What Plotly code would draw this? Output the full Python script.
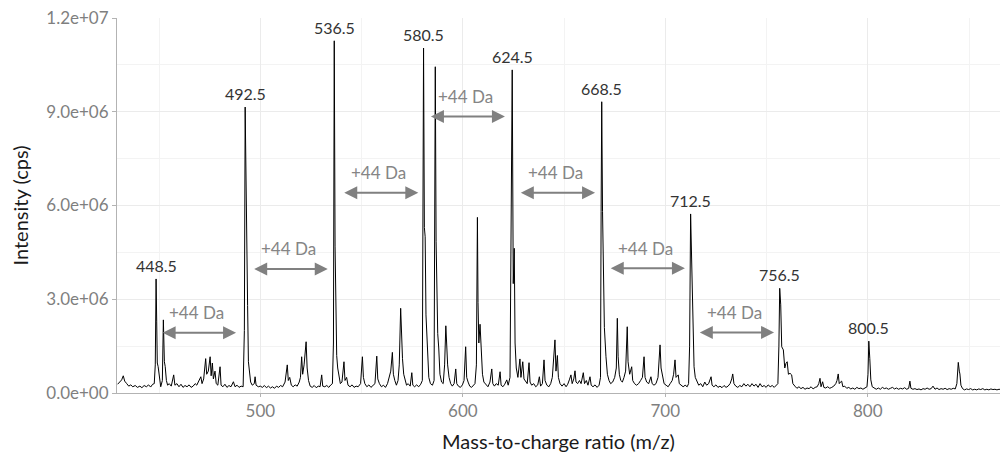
import plotly.graph_objects as go

# ================================
# Spectrum (m/z, intensity in millions of cps)
# ================================
spec_430_500 = [
    [429.5, 0.28], [430.5, 0.35], [431.5, 0.42], [432.3, 0.55], [433.0, 0.38], [434.0, 0.30],
    [435.0, 0.22], [436.0, 0.26], [437.0, 0.20], [438.2, 0.24], [439.3, 0.18], [440.5, 0.22],
    [441.5, 0.17], [442.6, 0.24], [443.7, 0.20], [444.8, 0.26], [445.8, 0.19], [446.8, 0.28],
    [447.6, 0.30], [448.1, 0.90], [448.5, 3.65], [448.8, 2.30], [449.1, 0.96], [449.5, 0.85],
    [450.0, 0.60], [450.8, 0.20], [451.6, 0.40], [452.1, 2.34], [452.6, 1.00], [453.0, 0.85],
    [453.6, 0.40], [454.2, 0.25], [455.0, 0.30], [456.0, 0.22], [457.2, 0.58], [457.8, 0.25],
    [458.8, 0.30], [459.8, 0.20], [460.8, 0.28], [461.8, 0.18], [462.8, 0.24], [463.8, 0.20],
    [464.8, 0.26], [465.8, 0.18], [466.8, 0.22], [467.8, 0.30], [468.6, 0.25], [469.5, 0.35],
    [470.6, 0.52], [471.2, 0.30], [472.0, 0.45], [473.0, 1.10], [473.5, 0.60], [474.3, 0.70],
    [475.2, 1.16], [475.7, 0.55], [476.3, 0.96], [476.8, 0.45], [477.6, 0.70], [478.2, 0.30],
    [479.0, 0.25], [480.1, 0.84], [480.6, 0.25], [481.5, 0.20], [482.5, 0.28], [483.5, 0.18],
    [484.5, 0.24], [485.5, 0.20], [486.7, 0.36], [487.5, 0.20], [488.5, 0.25], [489.5, 0.18],
    [490.5, 0.22], [491.5, 0.20], [492.1, 2.00], [492.5, 9.15], [492.9, 6.30], [493.3, 4.30],
    [493.7, 2.80], [494.1, 1.00], [494.6, 0.60], [495.2, 0.35], [496.0, 0.25], [497.0, 0.30],
    [497.4, 0.52], [497.9, 0.25], [499.0, 0.20],
]
spec_500_600 = [
    [500.0, 0.22], [501.0, 0.18], [502.0, 0.24], [503.0, 0.17], [504.0, 0.22], [505.0, 0.16],
    [506.0, 0.20], [507.0, 0.15], [508.0, 0.22], [509.0, 0.18], [510.0, 0.24], [511.0, 0.20],
    [512.2, 0.35], [513.3, 0.90], [513.8, 0.40], [514.5, 0.50], [515.3, 0.25], [516.2, 0.20],
    [517.2, 0.26], [518.2, 0.22], [519.2, 0.35], [519.8, 0.50], [520.4, 1.16], [520.9, 0.60],
    [521.6, 0.90], [522.6, 1.64], [523.1, 0.80], [523.8, 0.40], [524.6, 0.22], [525.6, 0.18],
    [526.6, 0.24], [527.6, 0.17], [528.6, 0.22], [529.5, 0.20], [530.3, 0.58], [530.8, 0.22],
    [531.8, 0.20], [532.8, 0.24], [533.8, 0.18], [534.8, 0.26], [535.6, 0.30], [536.1, 1.60],
    [536.5, 11.27], [536.9, 4.70], [537.3, 2.50], [537.7, 1.20], [538.2, 0.80], [538.8, 0.50],
    [539.5, 0.30], [540.3, 0.35], [541.3, 1.00], [541.8, 0.40], [542.6, 0.50], [543.3, 0.25],
    [544.3, 0.20], [545.3, 0.26], [546.3, 0.18], [547.3, 0.22], [548.3, 0.20], [549.5, 0.30],
    [550.4, 1.16], [550.9, 0.50], [551.6, 0.30], [552.6, 0.20], [553.6, 0.26], [554.6, 0.18],
    [555.6, 0.24], [556.6, 0.30], [557.5, 1.18], [558.0, 0.45], [558.8, 0.30], [559.8, 0.20],
    [560.8, 0.25], [561.8, 0.18], [562.8, 0.30], [563.6, 0.50], [564.4, 0.70], [565.2, 1.30],
    [565.7, 0.60], [566.4, 0.40], [567.2, 0.25], [568.0, 0.40], [568.6, 0.90], [569.3, 2.71],
    [569.7, 1.80], [570.2, 1.10], [570.8, 0.60], [571.5, 0.40], [572.2, 0.25], [573.0, 0.30],
    [574.0, 0.22], [574.8, 0.65], [575.3, 0.25], [576.2, 0.20], [577.2, 0.26], [578.2, 0.20],
    [579.2, 0.28], [580.0, 0.40], [580.3, 7.90], [580.6, 11.04], [581.0, 5.30], [581.4, 5.00],
    [581.8, 2.50], [582.5, 1.35], [583.2, 0.50], [584.0, 0.30], [585.0, 0.25], [585.8, 0.40],
    [586.1, 5.80], [586.4, 10.44], [586.8, 4.84], [587.2, 3.10], [587.6, 1.90], [588.1, 1.44],
    [588.7, 0.60], [589.5, 0.35], [590.3, 0.30], [591.0, 0.90], [591.6, 2.15], [592.0, 1.60],
    [592.5, 0.90], [593.2, 0.50], [594.0, 0.30], [594.8, 0.22], [595.7, 0.30], [596.5, 0.77],
    [597.0, 0.30], [597.8, 0.22], [598.8, 0.18], [599.8, 0.26],
]
spec_600_700 = [
    [600.6, 0.40], [601.4, 1.48], [601.9, 0.50], [602.6, 0.35], [603.4, 0.22], [604.3, 0.18],
    [605.2, 0.24], [606.0, 0.30], [606.7, 0.90], [607.2, 5.62], [607.5, 2.90], [607.9, 1.60],
    [608.5, 2.20], [609.1, 1.38], [609.7, 0.60], [610.4, 0.35], [611.5, 0.25], [612.4, 0.20],
    [613.4, 0.35], [614.3, 0.77], [614.8, 0.30], [615.6, 0.22], [616.5, 0.30], [617.5, 0.25],
    [618.4, 0.68], [618.9, 0.25], [619.8, 0.20], [620.7, 0.28], [621.7, 0.42], [622.4, 0.25],
    [623.3, 0.50], [623.8, 4.26], [624.4, 10.34], [624.9, 3.50], [625.4, 4.63], [625.8, 1.60],
    [626.4, 0.80], [627.2, 0.50], [628.2, 1.09], [628.7, 0.50], [629.6, 1.00], [630.2, 0.45],
    [631.0, 0.35], [631.8, 0.30], [632.7, 0.97], [633.2, 0.35], [634.0, 0.25], [635.0, 0.30],
    [636.0, 0.20], [637.0, 0.26], [637.8, 0.52], [638.4, 0.22], [639.3, 0.30], [640.1, 1.06],
    [640.6, 0.40], [641.5, 0.25], [642.5, 0.20], [643.4, 0.30], [644.2, 0.50], [645.5, 1.70],
    [646.0, 0.70], [646.7, 1.20], [647.2, 0.50], [648.0, 0.30], [649.0, 0.22], [650.0, 0.30],
    [651.0, 0.20], [651.8, 0.28], [652.6, 0.42], [653.4, 0.58], [654.0, 0.30], [654.8, 0.45],
    [655.4, 0.71], [655.9, 0.35], [656.7, 0.30], [657.6, 0.40], [658.4, 0.30], [659.5, 0.65],
    [660.1, 0.30], [661.0, 0.40], [661.8, 0.25], [662.8, 0.52], [663.4, 0.25], [664.3, 0.20],
    [665.3, 0.26], [666.3, 0.18], [667.3, 0.25], [668.0, 0.50], [668.3, 5.80], [668.6, 9.32],
    [669.0, 5.80], [669.4, 3.94], [669.9, 2.10], [670.7, 1.16], [671.4, 0.60], [672.2, 0.40],
    [673.0, 0.30], [674.0, 0.35], [675.0, 0.50], [675.8, 0.80], [676.3, 2.39], [676.7, 1.16],
    [677.3, 0.60], [678.0, 0.40], [678.8, 0.35], [679.6, 0.50], [680.4, 0.70], [681.2, 2.12],
    [681.6, 1.00], [682.4, 0.60], [683.4, 0.84], [683.9, 0.40], [684.8, 0.30], [685.8, 0.25],
    [686.8, 0.30], [687.8, 0.40], [688.7, 0.50], [689.5, 1.16], [690.0, 0.50], [690.8, 0.35],
    [691.8, 0.30], [692.9, 0.52], [693.5, 0.30], [694.4, 0.25], [695.4, 0.30], [696.4, 0.50],
    [697.4, 1.54], [697.9, 0.80], [698.6, 0.50], [699.4, 0.30],
]
spec_700_866 = [
    [700.4, 0.25], [701.4, 0.20], [702.4, 0.30], [703.4, 0.40], [704.1, 0.60], [704.8, 1.06],
    [705.3, 0.50], [706.4, 0.58], [706.9, 0.30], [707.8, 0.25], [708.8, 0.20], [709.8, 0.25],
    [710.8, 0.20], [711.5, 0.30], [712.0, 1.50], [712.5, 5.73], [712.9, 4.60], [713.3, 2.60],
    [713.8, 1.40], [714.2, 0.84], [714.8, 0.50], [715.6, 0.35], [716.5, 0.25], [717.5, 0.30],
    [718.5, 0.20], [719.5, 0.35], [720.4, 0.25], [721.4, 0.30], [722.6, 0.52], [723.1, 0.25],
    [724.0, 0.20], [725.0, 0.26], [726.0, 0.18], [727.0, 0.22], [728.0, 0.17], [729.0, 0.24],
    [730.0, 0.18], [731.0, 0.22], [732.0, 0.30], [732.8, 0.45], [733.3, 0.61], [733.9, 0.30],
    [734.8, 0.22], [735.8, 0.18], [736.8, 0.24], [737.8, 0.20], [738.8, 0.30], [739.8, 0.22],
    [740.8, 0.28], [741.8, 0.20], [742.8, 0.30], [743.8, 0.22], [744.8, 0.28], [745.8, 0.18],
    [746.8, 0.30], [747.8, 0.20], [748.8, 0.24], [749.8, 0.18], [750.8, 0.26], [751.8, 0.20],
    [752.8, 0.24], [753.8, 0.18], [754.8, 0.26], [755.6, 0.30], [756.1, 1.50], [756.5, 3.35],
    [757.0, 2.82], [757.5, 1.48], [758.3, 1.38], [759.0, 0.80], [759.6, 0.95], [760.2, 1.00],
    [760.8, 0.60], [761.6, 0.63], [762.4, 0.58], [763.0, 0.30], [764.0, 0.22], [765.0, 0.15],
    [766.0, 0.20], [767.0, 0.14], [768.0, 0.18], [769.0, 0.12], [770.0, 0.16], [771.0, 0.14],
    [772.0, 0.20], [773.0, 0.13], [774.0, 0.18], [775.0, 0.20], [775.8, 0.30], [776.4, 0.47],
    [776.9, 0.20], [777.7, 0.36], [778.3, 0.18], [779.2, 0.16], [780.2, 0.20], [781.2, 0.15],
    [782.2, 0.18], [783.2, 0.22], [784.2, 0.30], [784.8, 0.40], [785.4, 0.61], [785.9, 0.30],
    [786.5, 0.35], [787.1, 0.38], [787.7, 0.20], [788.6, 0.22], [789.6, 0.15], [790.6, 0.18],
    [791.6, 0.13], [792.6, 0.16], [793.6, 0.12], [794.6, 0.18], [795.6, 0.14], [796.6, 0.16],
    [797.6, 0.12], [798.6, 0.15], [799.6, 0.20], [800.1, 0.60], [800.5, 1.66], [801.0, 1.10],
    [801.5, 0.42], [802.2, 0.20], [803.2, 0.15], [804.2, 0.12], [805.2, 0.16], [806.2, 0.12],
    [807.2, 0.18], [808.2, 0.14], [809.2, 0.16], [810.2, 0.12], [811.2, 0.15], [812.2, 0.18],
    [813.2, 0.13], [814.2, 0.16], [815.2, 0.12], [816.2, 0.15], [817.2, 0.13], [818.2, 0.17],
    [819.2, 0.12], [820.2, 0.15], [820.8, 0.38], [821.3, 0.15], [822.3, 0.12], [823.3, 0.14],
    [824.3, 0.11], [825.3, 0.13], [826.3, 0.10], [827.3, 0.14], [828.3, 0.12], [829.3, 0.16],
    [830.3, 0.12], [831.3, 0.14], [832.2, 0.22], [833.2, 0.12], [834.2, 0.16], [835.2, 0.11],
    [836.2, 0.14], [837.2, 0.12], [838.2, 0.15], [839.2, 0.11], [840.2, 0.14], [841.2, 0.12],
    [842.2, 0.15], [843.2, 0.13], [844.0, 0.30], [844.7, 0.98], [845.2, 0.70], [845.5, 0.61],
    [846.0, 0.25], [846.8, 0.14], [847.8, 0.10], [848.8, 0.13], [849.8, 0.11], [850.8, 0.14],
    [851.8, 0.10], [852.8, 0.12], [853.8, 0.10], [854.8, 0.13], [855.8, 0.11], [856.8, 0.14],
    [857.8, 0.10], [858.8, 0.12], [859.8, 0.10], [860.8, 0.13], [861.8, 0.11], [862.8, 0.12],
    [863.8, 0.10], [864.8, 0.12], [865.8, 0.11],
]

# labelled peaks (m/z, intensity in millions)
peak_mz = [448.5, 492.5, 536.5, 580.5, 624.5, 668.5, 712.5, 756.5, 800.5]
peak_int = [3.65, 9.15, 11.27, 11.04, 10.34, 9.32, 5.73, 3.35, 1.66]
peak_text = ["448.5", "492.5", "536.5", "580.5", "624.5", "668.5", "712.5", "756.5", "800.5"]

# +44 Da arrows
arrow_from = [451.0, 496.2, 540.7, 583.5, 627.9, 672.3, 716.3]
arrow_to = [488.0, 533.3, 578.0, 620.8, 665.3, 709.7, 753.7]
arrow_y = [1.93, 3.97, 6.41, 8.85, 6.41, 3.99, 1.94]
arrow_text = "+44 Da"

# ejes
y_tickvals = [0, 3e6, 6e6, 9e6, 1.2e7]
y_ticktext = ["0.0e+00", "3.0e+06", "6.0e+06", "9.0e+06", "1.2e+07"]
x_tickvals = [500, 600, 700, 800]

FONT = "Lato"
GRID = "#EBEBEB"

spectrum = spec_430_500 + spec_500_600 + spec_600_700 + spec_700_866
mz = [p[0] for p in spectrum]
intensity = [p[1] * 1e6 for p in spectrum]

fig = go.Figure()
fig.add_trace(go.Scatter(
    x=mz, y=intensity, mode="lines",
    line=dict(color="black", width=1),
    showlegend=False, hoverinfo="x+y"
))

# ---------- peak labels ----------
for x, y, t in zip(peak_mz, peak_int, peak_text):
    fig.add_annotation(
        x=x, y=y * 1e6, text=t, showarrow=False,
        yanchor="bottom", yshift=2,
        font=dict(family=FONT, size=16, color="#333333")
    )

# ---------- +44 Da arrows ----------
for x0, x1, y in zip(arrow_from, arrow_to, arrow_y):
    fig.add_annotation(
        x=x1, y=y * 1e6, ax=x0, ay=y * 1e6,
        xref="x", yref="y", axref="x", ayref="y",
        text="", showarrow=True, arrowhead=2, arrowside="end+start",
        arrowsize=1.3, arrowwidth=2, arrowcolor="#808080"
    )
    fig.add_annotation(
        x=(x0 + x1) / 2 - 1, y=y * 1e6, text=arrow_text, showarrow=False,
        yshift=20, font=dict(family=FONT, size=17, color="#858585")
    )

fig.update_layout(
    width=1000, height=454,
    margin=dict(l=117, r=0, t=18, b=61),
    plot_bgcolor="white", paper_bgcolor="white",
    font=dict(family=FONT),
    showlegend=False,
)
fig.update_xaxes(
    range=[429.2, 865.3],
    tickvals=x_tickvals, ticks="outside", ticklen=3, tickcolor="#B3B3B3",
    tickfont=dict(family=FONT, size=17, color="#7F7F7F"),
    showgrid=True, gridcolor=GRID, gridwidth=1,
    minor=dict(dtick=50, tick0=450, showgrid=True, gridcolor="#F3F3F3"),
    showline=True, linecolor="#B3B3B3", linewidth=1,
    zeroline=False,
    title=dict(text="Mass-to-charge ratio (m/z)", standoff=14,
               font=dict(family=FONT, size=20, color="#1A1A1A")),
)
fig.update_yaxes(
    range=[0, 1.2e7],
    tickvals=y_tickvals, ticktext=y_ticktext,
    ticks="outside", ticklen=4, tickcolor="#B3B3B3",
    tickfont=dict(family=FONT, size=17, color="#7F7F7F"),
    showgrid=True, gridcolor=GRID, gridwidth=1,
    minor=dict(tickvals=[1.5e6, 4.5e6, 7.5e6, 1.05e7], showgrid=True, gridcolor="#F3F3F3"),
    showline=True, linecolor="#B3B3B3", linewidth=1,
    zeroline=False,
    title=dict(text="Intensity (cps)", standoff=12,
               font=dict(family=FONT, size=20, color="#1A1A1A")),
)

# la página trae margen de 8px en body; se quita para que la figura quede en (0, 0)
fig.write_html("out.html", config={"displayModeBar": False},
               post_script="document.body.style.margin='0';")
